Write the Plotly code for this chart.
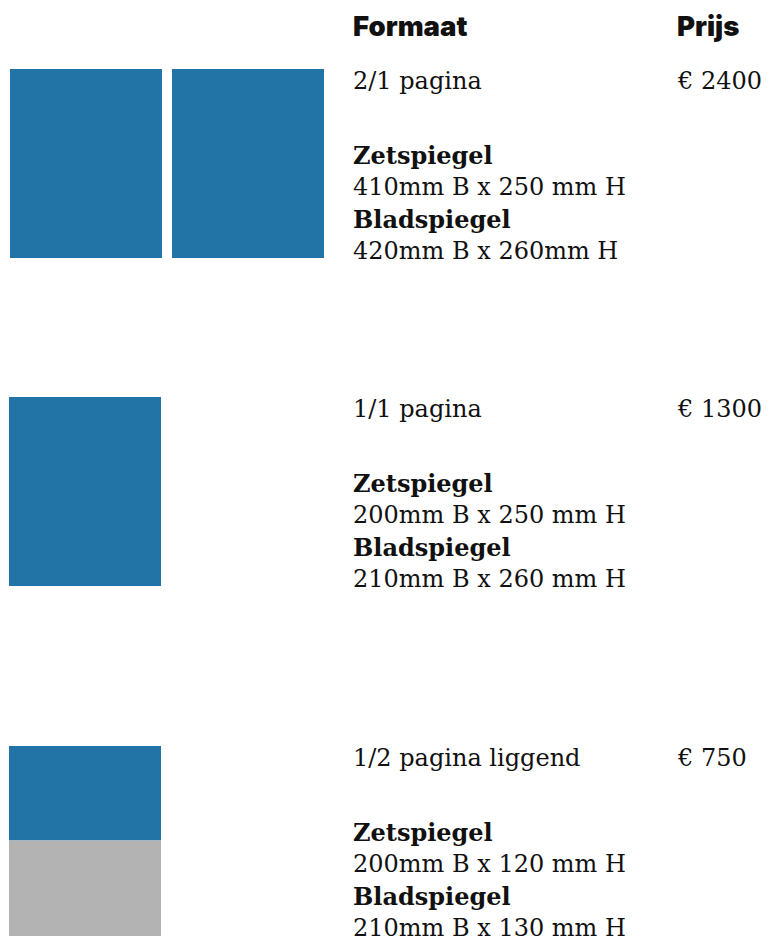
import plotly.graph_objects as go

# ---- data ----
formats = ["2/1 pagina", "1/1 pagina", "1/2 pagina liggend"]
prices = ["€ 2400", "€ 1300", "€ 750"]
zetspiegel = ["410mm B x 250 mm H", "200mm B x 250 mm H", "200mm B x 120 mm H"]
bladspiegel = ["420mm B x 260mm H", "210mm B x 260 mm H", "210mm B x 130 mm H"]
pages = [2, 1, 1]            # number of pages drawn
filled = [1.0, 1.0, 0.5]     # fraction of the page that is the ad
headers = ["Formaat", "Prijs"]

# ---- layout constants (coordinates are page pixels) ----
W, H = 772, 938
row_top = [69, 397, 746]
page_x0 = [10, 9, 9]
page_w, page_h, page_gap = 152, 189, 10
text_x, price_x = 351, 675
BLUE, GREY = "#2374a6", "#b3b3b3"
SERIF = "DejaVu Serif"
SANS = "Inter"

fig = go.Figure()
fig.add_trace(go.Scatter(x=[0, W], y=[0, H], mode="markers",
                         marker=dict(opacity=0), hoverinfo="skip", showlegend=False))

shapes = []
annotations = []

def txt(x, y, s, size=24, family=SERIF, weight=None):
    f = dict(family=family, size=size, color="#111111")
    if weight:
        f["weight"] = weight
    annotations.append(dict(x=x, y=y, xref="x", yref="y", text=s, showarrow=False,
                            xanchor="left", yanchor="middle", font=f, align="left"))

txt(text_x, 26, headers[0], size=27.5, family=SANS, weight=900)
txt(price_x, 26, headers[1], size=27.5, family=SANS, weight=900)

for i in range(len(formats)):
    top = row_top[i]
    for p in range(pages[i]):
        x0 = page_x0[i] + p * (page_w + page_gap)
        split = top + page_h * filled[i]
        shapes.append(dict(type="rect", xref="x", yref="y", x0=x0, x1=x0 + page_w,
                           y0=top, y1=split, fillcolor=BLUE, line=dict(width=0), layer="below"))
        if filled[i] < 1:
            shapes.append(dict(type="rect", xref="x", yref="y", x0=x0, x1=x0 + page_w,
                               y0=split, y1=top + page_h + 1, fillcolor=GREY,
                               line=dict(width=0), layer="below"))
    txt(text_x, top + 12, formats[i])
    txt(price_x, top + 12, prices[i])
    txt(text_x, top + 86, "<b>Zetspiegel</b>")
    txt(text_x, top + 118, zetspiegel[i])
    txt(text_x, top + 150, "<b>Bladspiegel</b>")
    txt(text_x, top + 182, bladspiegel[i])

fig.update_layout(
    width=W, height=H, margin=dict(l=0, r=0, t=0, b=0),
    paper_bgcolor="white", plot_bgcolor="white",
    xaxis=dict(range=[0, W], visible=False, fixedrange=True),
    yaxis=dict(range=[H, 0], visible=False, fixedrange=True),
    shapes=shapes, annotations=annotations, showlegend=False,
)
fig.write_html(
    "out.html",
    config={"displayModeBar": False},
    post_script="document.body.style.margin='0';document.body.style.overflow='hidden';",
)
